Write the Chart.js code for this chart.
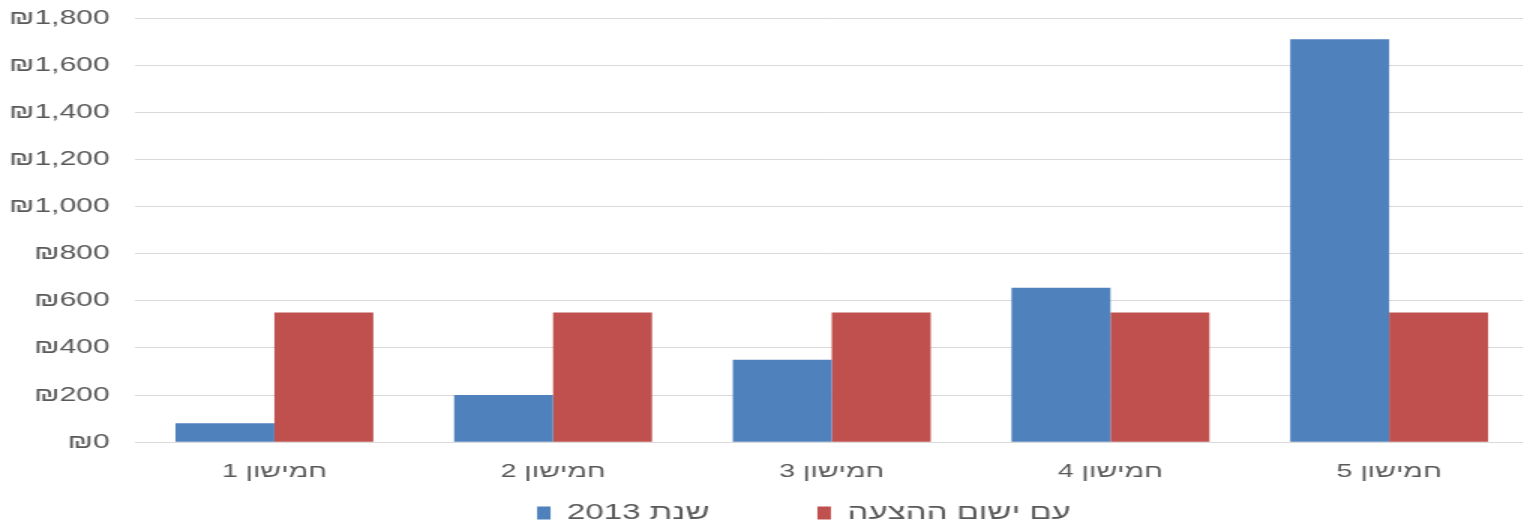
<!DOCTYPE html>
<html>
<head>
<meta charset="utf-8">
<script src="https://cdn.jsdelivr.net/npm/chart.js@4.4.1/dist/chart.umd.min.js"></script>
<style>
  html, body { margin: 0; padding: 0; background: #fff; overflow: hidden; }
  #wrap { width: 1068px; height: 526px; transform: scaleX(1.5); transform-origin: 0 0; }
</style>
</head>
<body>
<div id="wrap"><canvas id="quintileChart" dir="rtl"></canvas></div>
<script>
var categories = ["חמישון 1", "חמישון 2", "חמישון 3", "חמישון 4", "חמישון 5"];
var year2013 = [80, 200, 350, 655, 1710];
var withProposal = [550, 550, 550, 550, 550];
var seriesNames = ["שנת 2013", "עם ישום ההצעה"];

var textColor = '#595959';
var gridColor = '#D9D9D9';
var fontFamily = '"Liberation Sans", Arial, "DejaVu Sans", sans-serif';
var legendGap = 72;

// legend gap is also its top padding in Chart.js, so pull the legend down to the bottom edge
// and nudge it under the plot centre
var legendLift = {
    id: 'legendLift',
    afterLayout: function (chart) {
        var lg = chart.legend;
        var shift = lg.top - (chart.height - 24 - legendGap);
        lg.top -= shift;
        lg.bottom -= shift;
        lg.left += 32;
        lg.right += 32;
    }
};

var canvas = document.getElementById("quintileChart");

var chart = new Chart(canvas, {
    type: 'bar',
    data: {
        labels: categories,
        datasets: [{
            label: seriesNames[0],
            data: year2013,
            backgroundColor: '#4F81BD'
        }, {
            label: seriesNames[1],
            data: withProposal,
            backgroundColor: '#C0504D'
        }]
    },
    options: {
        responsive: true,
        maintainAspectRatio: false,
        animation: false,
        layout: {
            padding: { left: -11, right: 49, top: 18, bottom: -79 }
        },
        datasets: {
            bar: { categoryPercentage: 0.71, barPercentage: 1.0 }
        },
        scales: {
            x: {
                grid: { display: false, drawTicks: false },
                border: { display: true, color: gridColor },
                ticks: {
                    color: textColor,
                    padding: 18,
                    font: { family: fontFamily, size: 19 }
                }
            },
            y: {
                min: 0,
                max: 1800,
                grid: { color: gridColor, drawTicks: false },
                border: { display: false },
                ticks: {
                    stepSize: 200,
                    color: textColor,
                    padding: 17,
                    font: { family: fontFamily, size: 20 },
                    callback: function (v) { return '₪' + v.toLocaleString('en-US'); }
                },
                afterFit: function (scale) { scale.paddingTop = 0; }
            }
        },
        plugins: {
            legend: {
                display: true,
                position: 'bottom',
                rtl: false,
                textDirection: 'rtl',
                labels: {
                    boxWidth: 9,
                    boxHeight: 13,
                    padding: legendGap,
                    color: textColor,
                    font: { family: fontFamily, size: 22 }
                }
            },
            tooltip: { enabled: false }
        }
    },
    plugins: [legendLift]
});
</script>
</body>
</html>
